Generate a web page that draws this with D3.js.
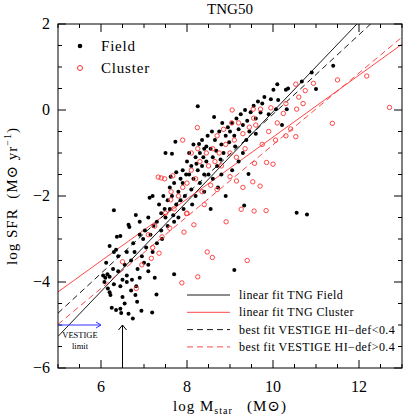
<!DOCTYPE html>
<html><head><meta charset="utf-8">
<script src="https://cdn.jsdelivr.net/npm/d3@7"></script>
<style>body{margin:0;background:#fff}text{font-family:"Liberation Serif","DejaVu Serif",serif}</style>
</head><body><svg id="c" width="407" height="415"></svg>
<script>
const field=[[6.05,-3.85],[6.1,-3.9],[6.15,-3.82],[6.2,-3.88],[6.08,-4.0],[6.16,-4.15],[6.22,-4.3],[6.12,-3.55],[6.2,-3.16],[6.3,-3.3],[6.35,-3.25],[6.4,-3.4],[6.3,-2.33],[6.37,-2.95],[6.45,-2.93],[6.25,-4.6],[6.35,-4.65],[6.45,-4.62],[6.47,-4.72],[6.3,-4.05],[6.4,-3.75],[6.45,-4.1],[6.5,-3.95],[6.28,-3.7],[6.5,-4.35],[6.2,-4.24],
[6.55,-3.6],[6.6,-4.0],[6.64,-2.67],[6.66,-2.72],[6.7,-4.2],[6.8,-4.3],[6.64,-4.74],[6.74,-4.85],[6.84,-4.46],[6.81,-2.44],[6.9,-2.6],[6.6,-3.3],[6.7,-3.5],[6.75,-3.1],[6.85,-3.7],[6.9,-3.9],[6.95,-3.4],[6.6,-3.85],[6.72,-3.95],[6.94,-4.67],[6.82,-4.1],[6.55,-4.5],[6.98,-3.0],[6.9,-2.9],[6.78,-3.3],
[7.02,-2.8],[7.05,-3.2],[7.1,-2.5],[7.13,-2.04],[7.2,-2.0],[7.15,-2.9],[7.19,-4.71],[7.29,-4.29],[7.1,-3.6],[7.2,-3.3],[7.25,-3.9],[7.3,-2.6],[7.35,-2.2],[7.4,-2.4],[7.45,-2.0],[7.3,-3.1],[7.4,-2.8],[7.5,-2.5],[7.1,-3.75],[7.22,-2.7],[7.0,-3.55],[7.48,-2.3],[7.5,-1.0],[7.42,-3.0],
[7.55,-2.1],[7.6,-2.3],[7.65,-1.02],[7.73,-0.74],[7.7,-3.82],[7.6,-1.8],[7.65,-2.0],[7.7,-1.7],[7.75,-2.2],[7.8,-1.9],[7.85,-1.6],[7.9,-1.7],[7.95,-2.0],[7.8,-2.5],[7.7,-2.6],[7.9,-1.4],[7.55,-2.7],[7.85,-2.1],[7.62,-1.55],[7.98,-1.5],[7.75,-1.45],[7.92,-2.3],[7.68,-2.45],
[8.0,-1.2],[8.05,-1.5],[8.1,-1.3],[8.15,-1.6],[8.2,-1.1],[8.25,-1.4],[8.28,-0.79],[8.25,0.09],[8.3,-1.0],[8.35,-1.3],[8.4,-0.9],[8.45,-1.2],[8.1,-1.85],[8.2,-2.0],[8.3,-1.7],[8.4,-1.5],[8.05,-1.0],[8.15,-0.8],[8.35,-0.7],[8.45,-0.85],[8.5,-1.5],[8.4,-1.9],[8.12,-2.2],[8.48,-0.6],[8.22,-1.25],[8.38,-1.1],
[8.55,-0.9],[8.6,-1.1],[8.63,-0.16],[8.65,-0.7],[8.7,-1.3],[8.75,-0.5],[8.8,-0.8],[8.85,-1.0],[8.9,-0.6],[8.95,-0.4],[8.6,-1.6],[8.72,-1.8],[8.8,-1.5],[8.9,-2.0],[8.55,-2.3],[8.68,-0.95],[8.82,-0.3],[8.98,-0.75],[8.58,-0.5],[8.78,-1.15],
[9.0,-0.5],[9.05,-0.3],[9.1,-0.6],[9.15,-0.2],[9.2,-0.45],[9.25,-0.1],[9.3,-0.35],[9.35,0.0],[9.4,-0.25],[9.45,-0.5],[9.1,-3.72],[9.33,-2.22],[9.43,-1.49],[9.2,-1.2],[9.3,-1.0],[9.05,-1.4],[9.38,-0.7],[9.48,-0.05],[9.12,-0.85],
[9.55,0.1],[9.6,-0.2],[9.65,0.2],[9.71,-0.06],[9.75,0.15],[9.8,0.3],[9.9,-0.1],[9.95,0.25],[9.6,-0.55],
[10.01,0.47],[10.07,0.02],[10.12,0.23],[10.21,-0.35],[10.3,0.47],[10.32,0.02],[10.35,0.5],[10.67,0.66],[10.9,0.87],[11.0,0.49],[11.4,1.03],[10.55,-2.39],[10.79,-2.43],[10.1,0.6]];
const cluster=[[12.71,0.06],[12.18,0.79],[11.5,0.7],[11.38,-0.31],[10.94,0.62],[10.53,0.6],[10.6,0.3],[10.7,0.15],[10.75,0.45],[10.55,0.02],[10.24,-0.08],[10.41,-0.44],[10.3,-0.6],[10.53,-0.62],[10.06,-0.7],[10.0,-1.26],[9.85,-1.22],[9.57,-1.24],[9.53,-1.67],[9.7,-1.77],[9.26,-2.31],[9.56,-2.35],[9.84,-2.34],[8.91,-2.6],[8.47,-3.3],[8.59,-3.43],[9.4,-3.5],[8.25,-3.88],[8.24,-0.41],[7.9,-0.7],[9.04,-0.3],[9.54,0.02],[9.71,0.02],[9.55,-0.19],[8.16,-2.67],[7.99,-2.41],[7.33,-1.56],[7.4,-1.58],[7.48,-1.6],[7.67,-1.53],[6.5,-3.53],[6.82,-4.15],[7.88,-4.02],[7.93,-2.84],[7.35,-3.33],[7.17,-3.45],[7.42,-2.95],[7.63,-1.9],[7.62,-2.09],[8.0,-2.4],
[7.1,-2.9],[7.25,-2.7],[7.5,-2.4],[7.7,-2.3],[7.8,-2.0],[7.9,-1.8],[8.0,-1.7],[8.1,-1.4],[8.2,-1.6],[8.3,-1.2],[8.35,-1.9],[8.45,-1.0],[8.5,-1.3],[8.6,-0.9],[8.65,-1.2],[8.7,-0.6],[8.75,-1.0],[8.8,-1.3],[8.85,-0.45],[8.9,-0.8],[9.0,-1.0],[9.1,-0.7],[9.15,-1.1],[9.2,-0.3],[9.3,-0.55],[9.35,-0.9],[9.45,-0.4],[8.55,-1.75],[8.7,-1.85],[9.0,-1.55],[9.15,-1.65],[9.3,-1.8],[9.75,-0.8],[9.9,-0.5],[7.6,-2.75],[7.2,-3.2],[6.95,-3.6],[8.4,-2.2],[8.1,-1.0],[8.25,-0.9],[9.05,0.0],[9.6,-0.35],[10.1,-0.3],[10.3,0.15],[9.95,0.05]];
const fits=[{name:"linear fit TNG Field",a:1.045,b:-10.49,c:"#000",d:null},
{name:"linear fit TNG Cluster",a:0.72,b:-7.83,c:"#f33",d:null},
{name:"best fit VESTIGE HI\u2212def<0.4",a:0.925,b:-9.35,c:"#000",d:"6,4"},
{name:"best fit VESTIGE HI\u2212def>0.4",a:0.835,b:-9.16,c:"#f33",d:"6,4"}];
const xTicks=[6,8,10,12], yTicks=[-6,-4,-2,0,2];
const svg=d3.select("#c");
const L=58,R=402,T=24,B=368;
const x=d3.scaleLinear([5,13],[L,R]), y=d3.scaleLinear([-6,2],[B,T]);
svg.append("defs").append("clipPath").attr("id","cp").append("rect").attr("x",L).attr("y",T).attr("width",R-L).attr("height",B-T);
const g=svg.append("g").attr("clip-path","url(#cp)");
fits.forEach(f=>{
  g.append("line").attr("x1",x(5)).attr("y1",y(f.a*5+f.b)).attr("x2",x(13)).attr("y2",y(f.a*13+f.b))
   .attr("stroke",f.c).attr("stroke-width",0.9).attr("stroke-dasharray",f.d);
});
g.selectAll(".f").data(field).join("circle").attr("cx",d=>x(d[0])).attr("cy",d=>y(d[1])).attr("r",2).attr("fill","#000");
g.selectAll(".cl").data(cluster).join("circle").attr("cx",d=>x(d[0])).attr("cy",d=>y(d[1])).attr("r",2.2).attr("fill","none").attr("stroke","#f33").attr("stroke-width",0.9);
const ax=svg.append("g");
ax.append("rect").attr("x",L).attr("y",T).attr("width",R-L).attr("height",B-T).attr("fill","none").attr("stroke","#000").attr("stroke-width",1);
d3.range(5,13.01,0.5).forEach(v=>{const big=v%2===0, l=big?8:4;
  ax.append("line").attr("x1",x(v)).attr("x2",x(v)).attr("y1",B).attr("y2",B-l).attr("stroke","#000");
  ax.append("line").attr("x1",x(v)).attr("x2",x(v)).attr("y1",T).attr("y2",T+l).attr("stroke","#000");});
d3.range(-6,2.01,0.5).forEach(v=>{const big=v%2===0, l=big?8:4;
  ax.append("line").attr("y1",y(v)).attr("y2",y(v)).attr("x1",L).attr("x2",L+l).attr("stroke","#000");
  ax.append("line").attr("y1",y(v)).attr("y2",y(v)).attr("x1",R).attr("x2",R-l).attr("stroke","#000");});
xTicks.forEach(v=>ax.append("text").attr("x",x(v)).attr("y",392).attr("text-anchor","middle").attr("font-size",16).text(v));
yTicks.forEach(v=>ax.append("text").attr("x",50).attr("y",y(v)+5).attr("text-anchor","end").attr("font-size",16).text(v<0?"\u2212"+(-v):v));
svg.append("text").attr("x",230).attr("y",14).attr("text-anchor","middle").attr("font-size",15).text("TNG50");
const xl=svg.append("text").attr("x",230).attr("y",411).attr("text-anchor","middle").attr("font-size",15).attr("letter-spacing",1);
xl.append("tspan").text("log M");xl.append("tspan").attr("font-size",10).attr("dy",3).text("star");
xl.append("tspan").attr("dy",-3).text("\u00a0\u00a0\u00a0(M\u2299)");
svg.append("text").attr("transform","translate(17,196) rotate(-90)").attr("text-anchor","middle").attr("font-size",15).attr("letter-spacing",1)
  .html('log SFR\u00a0\u00a0(M\u2299 yr<tspan font-size="10" dy="-6">\u22121</tspan><tspan dy="6">)</tspan>');
svg.append("circle").attr("cx",80).attr("cy",46).attr("r",2.3).attr("fill","#000");
svg.append("text").attr("x",101).attr("y",51).attr("font-size",15).attr("letter-spacing",0.8).text("Field");
svg.append("circle").attr("cx",80).attr("cy",68).attr("r",2.5).attr("fill","none").attr("stroke","#f33");
svg.append("text").attr("x",101).attr("y",73).attr("font-size",15).attr("letter-spacing",0.8).text("Cluster");
fits.forEach((f,i)=>{const yy=295+i*17.3;
  svg.append("line").attr("x1",187).attr("x2",230).attr("y1",yy).attr("y2",yy).attr("stroke",f.c).attr("stroke-width",0.9).attr("stroke-dasharray",f.d);
  svg.append("text").attr("x",239).attr("y",yy+4).attr("font-size",12).attr("letter-spacing",0.4).text(f.name);});
svg.append("line").attr("x1",x(5)).attr("x2",x(6)).attr("y1",y(-5)).attr("y2",y(-5)).attr("stroke","#33f");
svg.append("path").attr("d",`M${x(6)-5},${y(-5)-3}L${x(6)},${y(-5)}L${x(6)-5},${y(-5)+3}`).attr("fill","none").attr("stroke","#33f");
svg.append("text").attr("x",80).attr("y",338).attr("text-anchor","middle").attr("font-size",8.5).text("VESTIGE");
svg.append("text").attr("x",80).attr("y",349).attr("text-anchor","middle").attr("font-size",8.5).text("limit");
svg.append("line").attr("x1",x(6.5)).attr("x2",x(6.5)).attr("y1",B).attr("y2",y(-5)).attr("stroke","#000");
svg.append("path").attr("d",`M${x(6.5)-4},${y(-5)+5}L${x(6.5)},${y(-5)}L${x(6.5)+4},${y(-5)+5}`).attr("fill","none").attr("stroke","#000");
</script></body></html>
